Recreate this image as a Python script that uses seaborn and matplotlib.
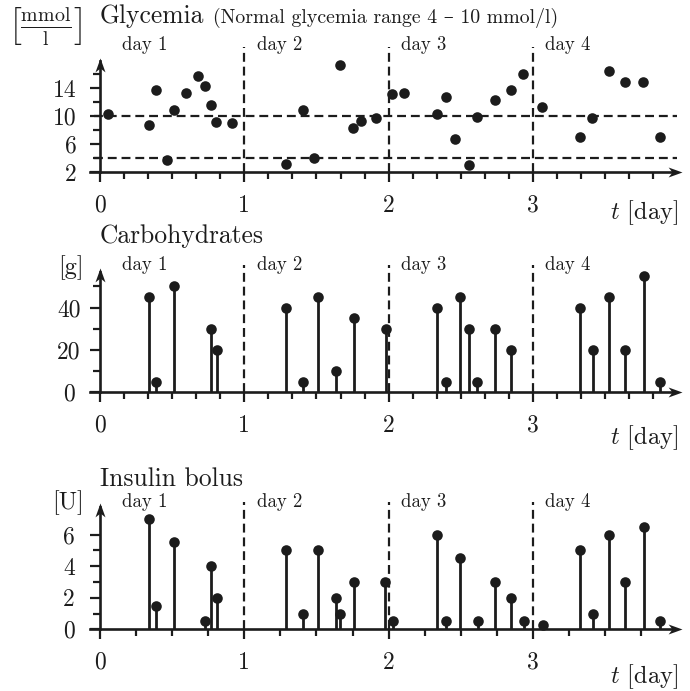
import numpy as np
import pandas as pd
import matplotlib
matplotlib.use("Agg")
import matplotlib.pyplot as plt
import matplotlib.transforms as mtransforms
from matplotlib.path import Path
from matplotlib.ticker import FixedLocator, FixedFormatter, NullFormatter
import seaborn as sns

# ---------------- data ----------------
glyc_t = [0.058, 0.34, 0.39, 0.466, 0.513, 0.594, 0.68, 0.73, 0.77, 0.805, 0.913,
          1.289, 1.405, 1.483, 1.663, 1.755, 1.806, 1.91,
          2.026, 2.109, 2.338, 2.398, 2.462, 2.559, 2.613, 2.737, 2.848, 2.931,
          3.065, 3.324, 3.412, 3.527, 3.638, 3.765, 3.883]
glyc_v = [10.4, 8.8, 13.7, 3.7, 10.9, 13.4, 15.7, 14.3, 11.6, 9.2, 9.0,
          3.2, 10.9, 4.1, 17.3, 8.3, 9.4, 9.8,
          13.2, 13.4, 10.4, 12.7, 6.7, 3.1, 9.9, 12.4, 13.7, 16.0,
          11.4, 7.0, 9.8, 16.5, 14.9, 14.9, 7.1]

carb_t = [0.34, 0.39, 0.513, 0.77, 0.81,
          1.289, 1.405, 1.508, 1.635, 1.757,
          1.98, 2.338, 2.398, 2.495, 2.559, 2.613, 2.737, 2.848,
          3.324, 3.416, 3.529, 3.638, 3.77, 3.883]
carb_v = [45, 5, 50, 30, 20,
          40, 5, 45, 10, 35,
          30, 40, 5, 45, 30, 5, 30, 20,
          40, 20, 45, 20, 55, 5]

ins_t = [0.34, 0.39, 0.513, 0.73, 0.77, 0.81,
         1.289, 1.405, 1.508, 1.635, 1.665, 1.757,
         1.975, 2.028, 2.338, 2.398, 2.495, 2.617, 2.737, 2.848, 2.936,
         3.07, 3.324, 3.416, 3.529, 3.638, 3.768, 3.883]
ins_v = [7, 1.5, 5.5, 0.5, 4, 2,
         5, 1, 5, 2, 1, 3,
         3, 0.5, 6, 0.5, 4.5, 0.5, 3, 2, 0.5,
         0.3, 5, 1, 6, 3, 6.5, 0.5]

normal_range = [4, 10]
day_names = ["day 1", "day 2", "day 3", "day 4"]
day_bounds = [1, 2, 3]
x_major = [0, 1, 2, 3]
x_major_labels = ["0", "1", "2", "3"]

glyc_major = [2, 6, 10, 14]
glyc_major_labels = ["2", "6", "10", "14"]
glyc_minor = [4, 8, 12, 16]
carb_major = [0, 20, 40]
carb_major_labels = ["0", "20", "40"]
carb_minor = [10, 30, 50]
ins_major = [0, 2, 4, 6]
ins_major_labels = ["0", "2", "4", "6"]
ins_minor = [1, 3, 5]

# ---------------- style ----------------
sns.set_style("white")
plt.rcParams["font.family"] = ["cmr10", "DejaVu Serif"]
plt.rcParams["mathtext.fontset"] = "cm"
plt.rcParams["axes.unicode_minus"] = False
plt.rcParams["axes.formatter.use_mathtext"] = True

INK = "#1c1c1c"
W, H = 690, 691
PX_PER_DAY = 144.3
X0_PX = 100.0
XMIN, XMAX = -0.07, 4.03
DOT = 58
STEM_LW = 2.0
DASH_LW = 1.6

fig = plt.figure(figsize=(W / 100, H / 100), dpi=100)
fig.patch.set_facecolor("white")

right_arrow = Path([(0, 0), (-1, 0.36), (-0.72, 0), (-1, -0.36), (0, 0)],
                   [Path.MOVETO, Path.LINETO, Path.LINETO, Path.LINETO, Path.CLOSEPOLY])
up_arrow = Path([(0, 0), (0.36, -1), (0, -0.72), (-0.36, -1), (0, 0)],
                [Path.MOVETO, Path.LINETO, Path.LINETO, Path.LINETO, Path.CLOSEPOLY])


def fy(px):
    return 1 - px / H


def make_panel(axis_px, top_px, ylim, major, major_labels, minor, x_minor,
               ylab_pad, ylab_ha):
    left_px = X0_PX + XMIN * PX_PER_DAY
    width_px = (XMAX - XMIN) * PX_PER_DAY
    ax = fig.add_axes([left_px / W, fy(axis_px), width_px / W, (axis_px - top_px) / H])
    ax.set_xlim(XMIN, XMAX)
    ax.set_ylim(*ylim)
    ax.set_facecolor("none")
    for s in ["top", "right"]:
        ax.spines[s].set_visible(False)
    ax.spines["left"].set_position(("data", 0))
    ax.spines["left"].set_bounds(ylim[0], ylim[1] - (ylim[1] - ylim[0]) * 0.03)
    ax.spines["bottom"].set_bounds(XMIN, XMAX - 0.04)
    for s in ["left", "bottom"]:
        ax.spines[s].set_color(INK)
        ax.spines[s].set_linewidth(1.9)
    # arrow heads
    ax.plot([XMAX], [ylim[0]], marker=right_arrow, ms=20, color=INK, mew=0,
            clip_on=False, zorder=6)
    ax.plot([0], [ylim[1]], marker=up_arrow, ms=20, color=INK, mew=0,
            clip_on=False, zorder=6)

    ax.xaxis.set_major_locator(FixedLocator(x_major))
    ax.xaxis.set_major_formatter(FixedFormatter(x_major_labels))
    ax.xaxis.set_minor_locator(FixedLocator(x_minor))
    ax.xaxis.set_minor_formatter(NullFormatter())
    ax.yaxis.set_major_locator(FixedLocator(major))
    ax.yaxis.set_major_formatter(FixedFormatter(major_labels))
    ax.yaxis.set_minor_locator(FixedLocator(minor))
    ax.yaxis.set_minor_formatter(NullFormatter())
    ax.tick_params(axis="both", which="both", direction="out", color=INK,
                   bottom=True, left=True, labelcolor=INK, labelsize=17)
    ax.tick_params(axis="both", which="major", length=7, width=1.6)
    ax.tick_params(axis="both", which="minor", length=5, width=1.6)
    ax.tick_params(axis="x", which="major", pad=9)
    ax.tick_params(axis="y", which="major", pad=ylab_pad)
    for lab in ax.get_yticklabels():
        lab.set_horizontalalignment(ylab_ha)
    ax.grid(False)
    return ax


def day_decor(ax, axis_px, dash_top_px, label_base_px):
    trans = mtransforms.blended_transform_factory(ax.transData, fig.transFigure)
    ax.vlines(day_bounds, fy(axis_px), fy(dash_top_px), transform=trans,
              colors=INK, lw=DASH_LW, linestyles=(0, (4, 2.2)), clip_on=False, zorder=2)
    for i, name in enumerate(day_names):
        x = i + (0.155 if i == 0 else 0.085)
        fig.text(x, fy(label_base_px), name, transform=trans, fontsize=13.5,
                 color=INK, ha="left", va="baseline")


def tlabel(axis_px_center):
    fig.text(678 / W, fy(axis_px_center), r"$t$ [day]", fontsize=17.5, color=INK,
             ha="right", va="center")


# ---------------- Glycemia ----------------
x_minor_6 = [k / 6 for k in range(1, 24) if k % 6 != 0]
x_minor_4 = [k / 4 for k in range(1, 16) if k % 4 != 0]

ax1 = make_panel(172.3, 58, (2, 18.33), glyc_major, glyc_major_labels, glyc_minor,
                 x_minor_6, 9.5, "right")
ax1.hlines(normal_range, -0.045, 4.0, colors=INK, lw=DASH_LW,
           linestyles=(0, (4, 2.2)), zorder=2)
sns.scatterplot(x=glyc_t, y=glyc_v, ax=ax1, color=INK, s=DOT, linewidth=0,
                zorder=5, clip_on=False)
day_decor(ax1, 172.3, 47, 50)
fig.text(100 / W, fy(23), "Glycemia", fontsize=18.4, color=INK, ha="left", va="baseline")
fig.text(213 / W, fy(23), "(Normal glycemia range 4 \u2013 10 mmol/l)", fontsize=14.3,
         color=INK, ha="left", va="baseline")
fig.text(45 / W, fy(27), r"$\left[\frac{\mathrm{mmol}}{\mathrm{l}}\right]$",
         fontsize=20.5, color=INK, ha="center", va="center")
tlabel(213)

# ---------------- Carbohydrates ----------------
ax2 = make_panel(392.3, 268.3, (0, 58.6), carb_major, carb_major_labels, carb_minor,
                 x_minor_6, 15.5, "center")
ax2.vlines(carb_t, 0, carb_v, colors=INK, lw=STEM_LW, zorder=4)
sns.scatterplot(x=carb_t, y=carb_v, ax=ax2, color=INK, s=DOT, linewidth=0,
                zorder=5, clip_on=False)
day_decor(ax2, 392.3, 265, 270)
fig.text(100 / W, fy(243), "Carbohydrates", fontsize=18.4, color=INK, ha="left",
         va="baseline")
fig.text(71 / W, fy(268), "[g]", fontsize=17.5, color=INK, ha="center", va="center")
tlabel(438)

# ---------------- Insulin bolus ----------------
ax3 = make_panel(629.3, 503.3, (0, 7.98), ins_major, ins_major_labels, ins_minor,
                 x_minor_4, 11, "right")
ax3.vlines(ins_t, 0, ins_v, colors=INK, lw=STEM_LW, zorder=4)
sns.scatterplot(x=ins_t, y=ins_v, ax=ax3, color=INK, s=DOT, linewidth=0,
                zorder=5, clip_on=False)
day_decor(ax3, 629.3, 502, 507)
fig.text(100 / W, fy(486), "Insulin bolus", fontsize=18.4, color=INK, ha="left",
         va="baseline")
fig.text(68 / W, fy(503), "[U]", fontsize=17.5, color=INK, ha="center", va="center")
tlabel(677)

fig.savefig("out.png", dpi=100, facecolor="white")
